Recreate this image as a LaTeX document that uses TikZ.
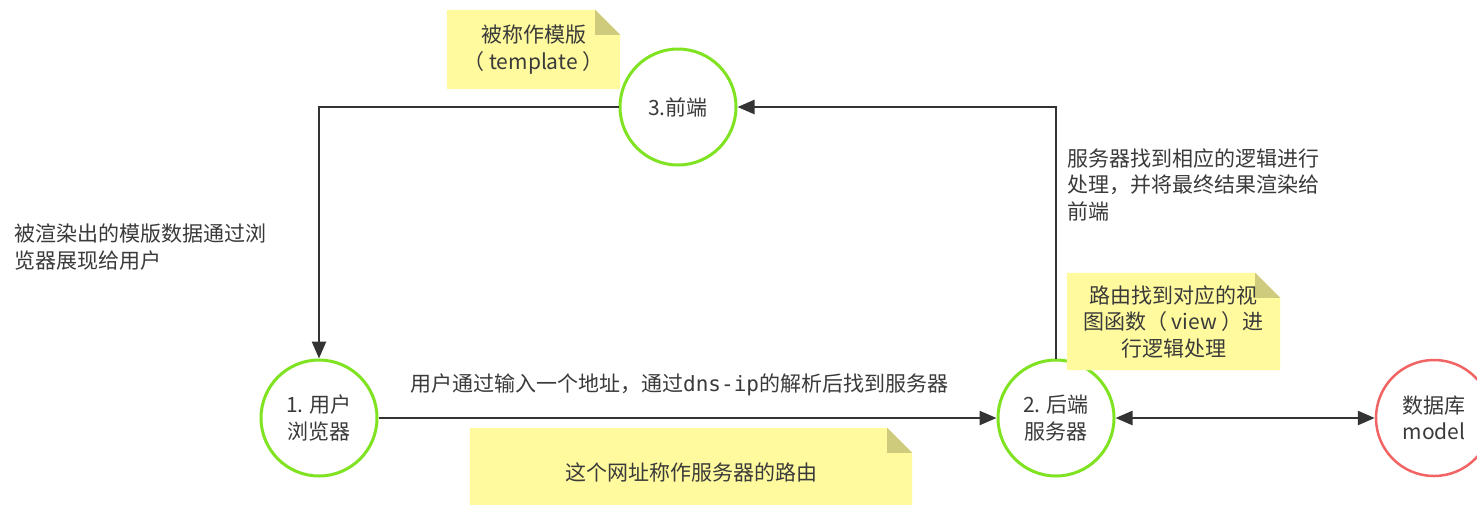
\documentclass[tikz,border=0pt]{standalone}
\usepackage{fontspec}
\setmainfont{Noto Sans CJK SC}
\setmonofont{DejaVu Sans Mono}
\usetikzlibrary{arrows.meta}
\definecolor{circgreen}{HTML}{80E322}
\definecolor{circred}{HTML}{F26464}
\definecolor{notefill}{HTML}{FFFA9E}
\definecolor{notefold}{HTML}{CFCB7C}
\definecolor{linecol}{HTML}{333333}
\definecolor{txtcol}{HTML}{3A3A3A}
\pgfdeclarelayer{notelayer}
\pgfdeclarelayer{notetop}
\pgfsetlayers{main,notelayer,notetop}
\tikzset{
  base/.style={font=\fontsize{21}{26.5}\selectfont, text=txtcol},
  circ/.style={base, circle, draw=circgreen, line width=3pt, fill=white, minimum size=116pt, inner sep=0pt, align=center},
  dbcirc/.style={circ, draw=circred, line width=2.5pt},
  conn/.style={draw=linecol, line width=2.5pt, -{Triangle[length=17pt,width=14pt]}},
  dconn/.style={draw=linecol, line width=2.5pt, {Triangle[length=17pt,width=14pt]}-{Triangle[length=17pt,width=14pt]}},
  lbl/.style={base, inner sep=0pt, align=left},
  notetext/.style={base, inner sep=0pt, align=center},
}
\newcommand{\notebg}[1]{%
  \fill[notefill] (#1.north west) -- ([xshift=-25pt]#1.north east) -- ([yshift=-25pt]#1.north east) -- (#1.south east) -- (#1.south west) -- cycle;
  \fill[notefold] ([xshift=-25pt]#1.north east) -- ([xshift=-25pt,yshift=-25pt]#1.north east) -- ([yshift=-25pt]#1.north east) -- cycle;}
\begin{document}
\begin{tikzpicture}[x=1pt,y=-1pt]
\useasboundingbox (0,0) rectangle (1477,504);
\clip (0,0) rectangle (1477,504);
\fill[white] (0,0) rectangle (1477,504);
% circles
\node[circ] (c3) at (678,107) {3.前端};
\node[circ] (c1) at (319,418) {1. 用户\\浏览器};
\node[circ] (c2) at (1056,418) {2. 后端\\服务器};
\node[dbcirc] (db) at (1434,418) {数据库\\model};
% connectors
\draw[conn] (c3.west) -| (c1.north);
\draw[conn] (c2.north) |- (c3.east);
\draw[conn] (c1.east) -- (c2.west);
\draw[dconn] (c2.east) -- (db.west);
% labels
\node[lbl, anchor=west] (t1) at (410,385) {用户通过输入一个地址，通过{\ttfamily dns-ip}的解析后找到服务器};
\node[lbl, anchor=north west] (t2) at (14,224) {被渲染出的模版数据通过浏\\览器展现给用户};
\node[lbl, anchor=north west] (t3) at (1067,148) {服务器找到相应的逻辑进行\\处理，并将最终结果渲染给\\前端};
% notes
\begin{pgfonlayer}{notetop}
\node[notetext, minimum width=173pt, minimum height=79pt] (n1) at (533.5,49.5) {被称作模版\\（ template ）};
\node[notetext, minimum width=213pt, minimum height=97pt] (n2) at (1173.5,321.5) {路由找到对应的视\\图函数（ view ）进\\行逻辑处理};
\node[notetext, minimum width=442pt, minimum height=88pt] (n3) at (691,472) {这个网址称作服务器的路由};
\end{pgfonlayer}
\begin{pgfonlayer}{notelayer}
\notebg{n1}
\notebg{n2}
\notebg{n3}
\end{pgfonlayer}
\end{tikzpicture}
\end{document}
